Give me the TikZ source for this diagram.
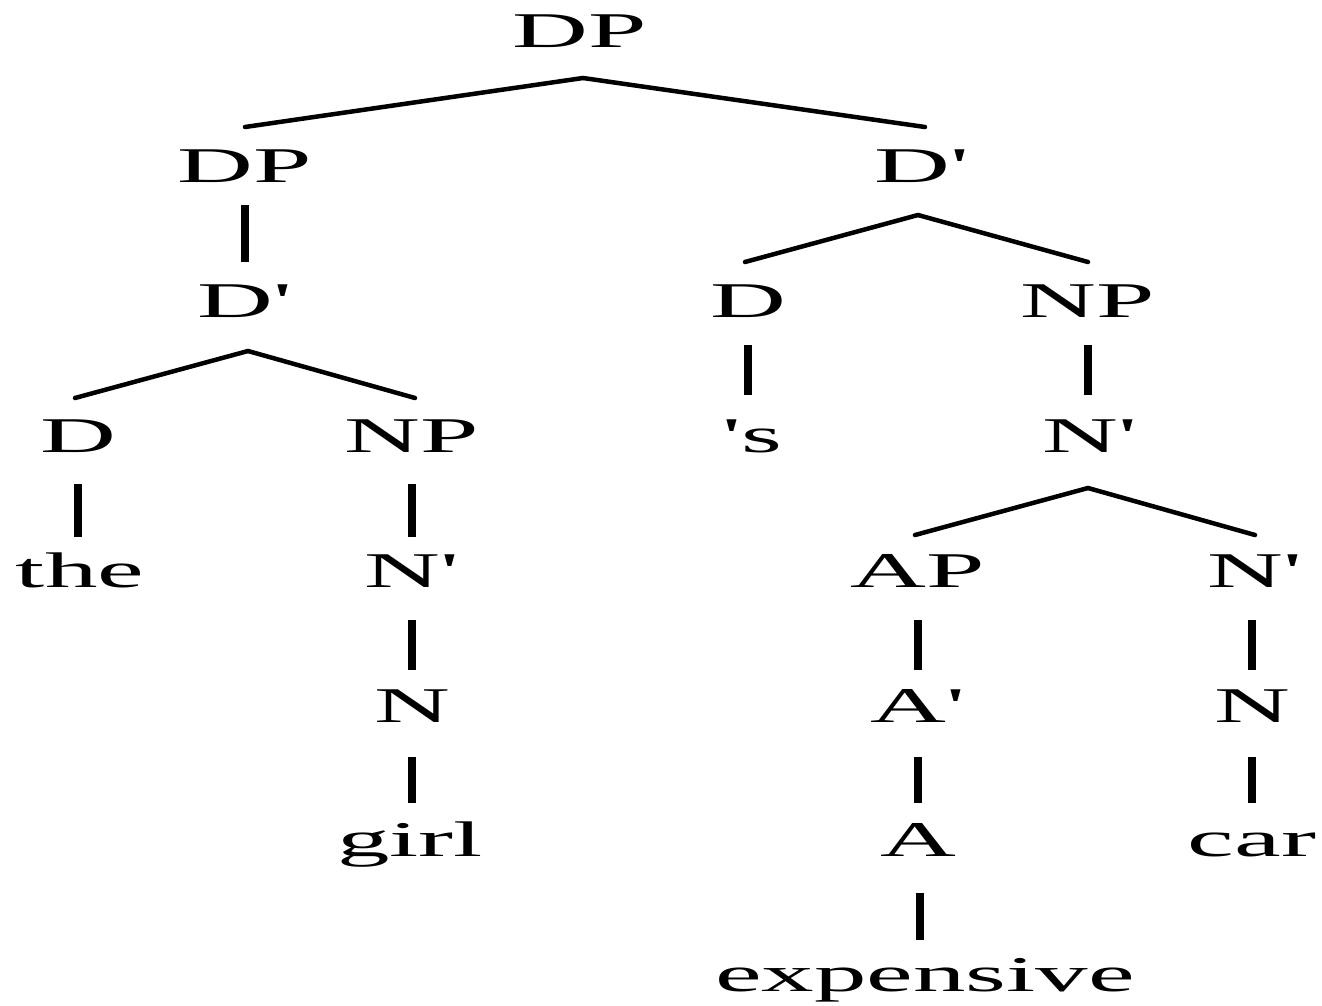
\documentclass[tikz,border=0pt]{standalone}
\usepackage{fontspec}
\newfontfamily\tm{Liberation Serif}
\newcommand{\wide}[1]{\scalebox{2.1}[1]{#1}}
\begin{document}
\begin{tikzpicture}[x=1pt,y=-1pt,
  lbl/.style={inner sep=0pt, anchor=base, font=\tm\fontsize{50}{60}\selectfont},
  branch/.style={line width=4.5pt, line cap=round},
  stem/.style={line width=8pt}]
\useasboundingbox (0,0) rectangle (1322,1005);
% level 0
\node[lbl] (dp0) at (580,47) {\wide{DP}};
% level 1
\node[lbl] (dp1) at (245,182) {\wide{DP}};
\node[lbl] (db1) at (922,182) {\wide{D'}};
% level 2
\node[lbl] (db2) at (245,317) {\wide{D'}};
\node[lbl] (d2) at (748,317) {\wide{D}};
\node[lbl] (np2) at (1088,317) {\wide{NP}};
% level 3
\node[lbl] (d3) at (78,452) {\wide{D}};
\node[lbl] (np3) at (412,452) {\wide{NP}};
\node[lbl] (s3) at (752,452) {\wide{'s}};
\node[lbl] (nb3) at (1090,452) {\wide{N'}};
% level 4
\node[lbl] (the) at (80,587) {\wide{the}};
\node[lbl] (nb4) at (412,587) {\wide{N'}};
\node[lbl] (ap4) at (918,587) {\wide{AP}};
\node[lbl] (nb4r) at (1255,587) {\wide{N'}};
% level 5
\node[lbl] (n5) at (412,722) {\wide{N}};
\node[lbl] (ab5) at (918,722) {\wide{A'}};
\node[lbl] (n5r) at (1252,722) {\wide{N}};
% level 6
\node[lbl] (girl) at (410,856) {\wide{girl}};
\node[lbl] (a6) at (918,856) {\wide{A}};
\node[lbl] (car) at (1252,856) {\wide{car}};
% level 7
\node[lbl] (exp) at (925,991) {\wide{expensive}};
% branches
\draw[branch] ([xshift=3pt,yshift=-31pt]dp0.base) coordinate (a0) -- ([yshift=55pt]dp1.base);
\draw[branch] (a0) -- ([xshift=3pt,yshift=55pt]db1.base);
\draw[branch] ([xshift=-4pt,yshift=-33pt]db1.base) coordinate (a1) -- ([xshift=-3pt,yshift=55pt]d2.base);
\draw[branch] (a1) -- ([yshift=55pt]np2.base);
\draw[branch] ([xshift=3pt,yshift=-34pt]db2.base) coordinate (a2) -- ([xshift=-3pt,yshift=54pt]d3.base);
\draw[branch] (a2) -- ([xshift=3pt,yshift=54pt]np3.base);
\draw[branch] ([xshift=-2pt,yshift=-36pt]nb3.base) coordinate (a3) -- ([xshift=-3pt,yshift=52pt]ap4.base);
\draw[branch] (a3) -- ([yshift=52pt]nb4r.base);
% stems
\draw[stem] ([yshift=-23pt]dp1.base) -- ([yshift=55pt]db2.base);
\draw[stem] ([yshift=-28pt]d2.base) -- ([xshift=-4pt,yshift=57pt]s3.base);
\draw[stem] ([yshift=-28pt]np2.base) -- ([xshift=-2pt,yshift=57pt]nb3.base);
\draw[stem] ([yshift=-32pt]d3.base) -- ([xshift=-2pt,yshift=50pt]the.base);
\draw[stem] ([yshift=-32pt]np3.base) -- ([yshift=50pt]nb4.base);
\draw[stem] ([yshift=-33pt]nb4.base) -- ([yshift=52pt]n5.base);
\draw[stem] ([yshift=-33pt]ap4.base) -- ([yshift=52pt]ab5.base);
\draw[stem] ([xshift=-3pt,yshift=-33pt]nb4r.base) -- ([yshift=52pt]n5r.base);
\draw[stem] ([yshift=-35pt]n5.base) -- ([xshift=2pt,yshift=53pt]girl.base);
\draw[stem] ([yshift=-35pt]ab5.base) -- ([yshift=53pt]a6.base);
\draw[stem] ([yshift=-35pt]n5r.base) -- ([yshift=53pt]car.base);
\draw[stem] ([xshift=2pt,yshift=-37pt]a6.base) -- ([xshift=-5pt,yshift=51pt]exp.base);
\end{tikzpicture}
\end{document}
